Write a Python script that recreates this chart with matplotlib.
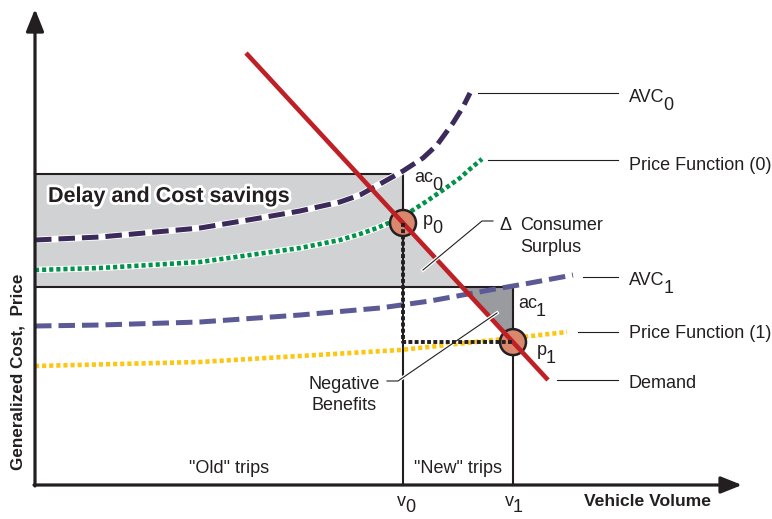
import numpy as np
import matplotlib
matplotlib.use('Agg')
import matplotlib.pyplot as plt
import matplotlib.patheffects as pe
from matplotlib.patches import Polygon, Rectangle, Circle

plt.rcParams['font.family'] = ['Liberation Sans', 'DejaVu Sans']

# curves (volume, cost)
avc0_x = [0, 65, 165, 225, 265, 305, 325, 345, 368, 388, 402, 418, 428, 435]
avc0_y = [245, 248, 257, 267, 274, 283, 290, 301, 314, 327, 340, 362, 378, 392]
price0_x = [0, 65, 165, 265, 305, 325, 342, 358, 375, 392, 408, 425, 435, 447]
price0_y = [215, 217, 223, 237, 245, 251, 257, 264, 273, 284, 295, 307, 316, 326]
avc1_x = [0, 65, 165, 265, 345, 395, 455, 495, 538]
avc1_y = [159, 160, 163, 170, 177, 184, 195, 202, 210]
price1_x = [0, 165, 265, 365, 412, 478, 532]
price1_y = [119, 123, 129, 135, 140, 147, 153]
demand_x = [211, 513]
demand_y = [432, 105]

v0, v1 = 368, 478          # volumes
ac0, ac1 = 311, 198        # average costs
p0 = np.interp(v0, demand_x, demand_y)
p1 = np.interp(v1, demand_x, demand_y)
# volume where demand hits ac1
d_ac1 = np.interp(ac1, demand_y[::-1], demand_x[::-1])

right_labels = [('AVC', '0'), ('Price Function (0)', ''), ('AVC', '1'),
                ('Price Function (1)', ''), ('Demand', '')]
right_label_y = [383, 315, 200, 147, 97]
leader_y = [392, 325, 208, 153, 105]
leader_x0 = [443, 453, 548, 543, 522]

ink = '#231f20'

fig = plt.figure(figsize=(7.72, 5.19), dpi=100)
ax = fig.add_axes([0, 0, 1, 1])
ax.set_xlim(-35, 737)
ax.set_ylim(-34, 485)
ax.axis('off')

# shaded areas
ax.add_patch(Rectangle((0, ac1), v0, ac0 - ac1, fc='#d1d2d4', ec='none', zorder=1))
ax.add_patch(Polygon([(v0, p0), (v0, ac1), (d_ac1, ac1)], closed=True,
                     fc='#d1d2d4', ec='none', zorder=1))
ax.add_patch(Polygon([(d_ac1, ac1), (v1, ac1), (v1, p1)], closed=True,
                     fc='#9a9b9f', ec='none', zorder=1))

# box lines
ax.plot([0, v0], [ac0, ac0], color=ink, lw=1.5, zorder=2)
ax.plot([v0, v0], [0, ac0], color=ink, lw=1.5, zorder=2)
ax.plot([0, v1], [ac1, ac1], color=ink, lw=1.5, zorder=2)
ax.plot([v1, v1], [0, ac1], color=ink, lw=1.5, zorder=2)

# curves
ax.plot(avc0_x, avc0_y, color='white', lw=4.8, zorder=3)
ax.plot(avc0_x, avc0_y, color='#3c2a5b', lw=3.6, ls=(0, (3.3, 1.4)), zorder=4)
ax.plot(price0_x, price0_y, color='white', lw=4.6, zorder=3)
ax.plot(price0_x, price0_y, color='#00934a', lw=3.3, ls=(0, (0.9, 0.65)), zorder=4)
ax.plot(avc1_x, avc1_y, color='#5c5a96', lw=3.6, ls=(0, (3.3, 1.4)), zorder=4)
ax.plot(price1_x, price1_y, color='#fcc613', lw=3.3, ls=(0, (0.9, 0.65)), zorder=4)

# equilibrium circles
for v, p in [(v0, p0), (v1, p1)]:
    ax.add_patch(Circle((v, p), 13, fc='#d9876d', ec=ink, lw=1.8, zorder=5))

ax.plot(demand_x, demand_y, color='#bf2026', lw=3.3, solid_capstyle='butt', zorder=6)

ax.plot([v0, v0, v1], [p0, p1, p1], color=ink, lw=2.8, ls=(0, (1, 0.6)), zorder=7)

# axes with arrows
ax.annotate('', xy=(0, 476), xytext=(0, -1),
            arrowprops=dict(arrowstyle='-|>,head_length=0.9,head_width=0.36',
                            lw=2.3, color=ink, shrinkA=0, shrinkB=0, mutation_scale=15),
            zorder=8)
ax.annotate('', xy=(707, 0), xytext=(-1, 0),
            arrowprops=dict(arrowstyle='-|>,head_length=0.85,head_width=0.34',
                            lw=2.3, color=ink, shrinkA=0, shrinkB=0, mutation_scale=15),
            zorder=8)

fs = 13


def sub_text(x, y, main, sub, drop=-5.5, **kw):
    t = ax.text(x, y, main, fontsize=fs, color=ink, va='baseline', zorder=9, **kw)
    if sub:
        ax.annotate(sub, xy=(1, 0), xycoords=t, xytext=(-0.8, drop),
                    textcoords='offset points', fontsize=fs, color=ink,
                    va='bottom', ha='left', zorder=9)
    return t


# right-hand labels with leaders
for (main, sub), ty, ly, lx in zip(right_labels, right_label_y, leader_y, leader_x0):
    ax.plot([lx, 583], [ly, ly], color=ink, lw=0.8, zorder=2)
    sub_text(594, ty, main, sub)

sub_text(379, 303, 'ac', '0')
sub_text(388, 260, 'p', '0')
sub_text(483, 177, 'ac', '1')
sub_text(502, 130, 'p', '1')
sub_text(362, -21, 'v', '0', drop=-4.5)
sub_text(470, -21, 'v', '1', drop=-4.5)

halo = [pe.withStroke(linewidth=2.6, foreground='white')]
ax.plot([458, 447, 388], [264, 264, 215], color=ink, lw=0.8, zorder=6.5,
        path_effects=halo)
ax.plot([352, 363, 462], [104, 104, 172], color=ink, lw=0.8, zorder=6.5,
        path_effects=halo)

ax.text(464, 255, '\u0394', fontsize=fs, color=ink, va='baseline')
ax.text(485, 255, 'Consumer', fontsize=fs, color=ink, va='baseline')
ax.text(485, 233, 'Surplus', fontsize=fs, color=ink, va='baseline')
ax.text(309, 96, 'Negative', fontsize=fs, color=ink, va='baseline', ha='center')
ax.text(309, 75, 'Benefits', fontsize=fs, color=ink, va='baseline', ha='center')
ax.text(194, 12, '"Old" trips', fontsize=fs, color=ink, va='baseline', ha='center')
ax.text(423, 12, '"New" trips', fontsize=fs, color=ink, va='baseline', ha='center')

ax.text(13, 283, 'Delay and Cost savings', fontsize=15.5, fontweight='bold',
        color=ink, va='baseline', zorder=9,
        path_effects=[pe.withStroke(linewidth=4, foreground='white')])
ax.text(612, -21, 'Vehicle Volume', fontsize=12.6, fontweight='bold',
        color=ink, va='baseline', ha='center')
ax.text(-17, 113, 'Generalized Cost,  Price', fontsize=12.3, fontweight='bold',
        color=ink, va='center', ha='center', rotation=90)

fig.savefig('out.png', dpi=100)
